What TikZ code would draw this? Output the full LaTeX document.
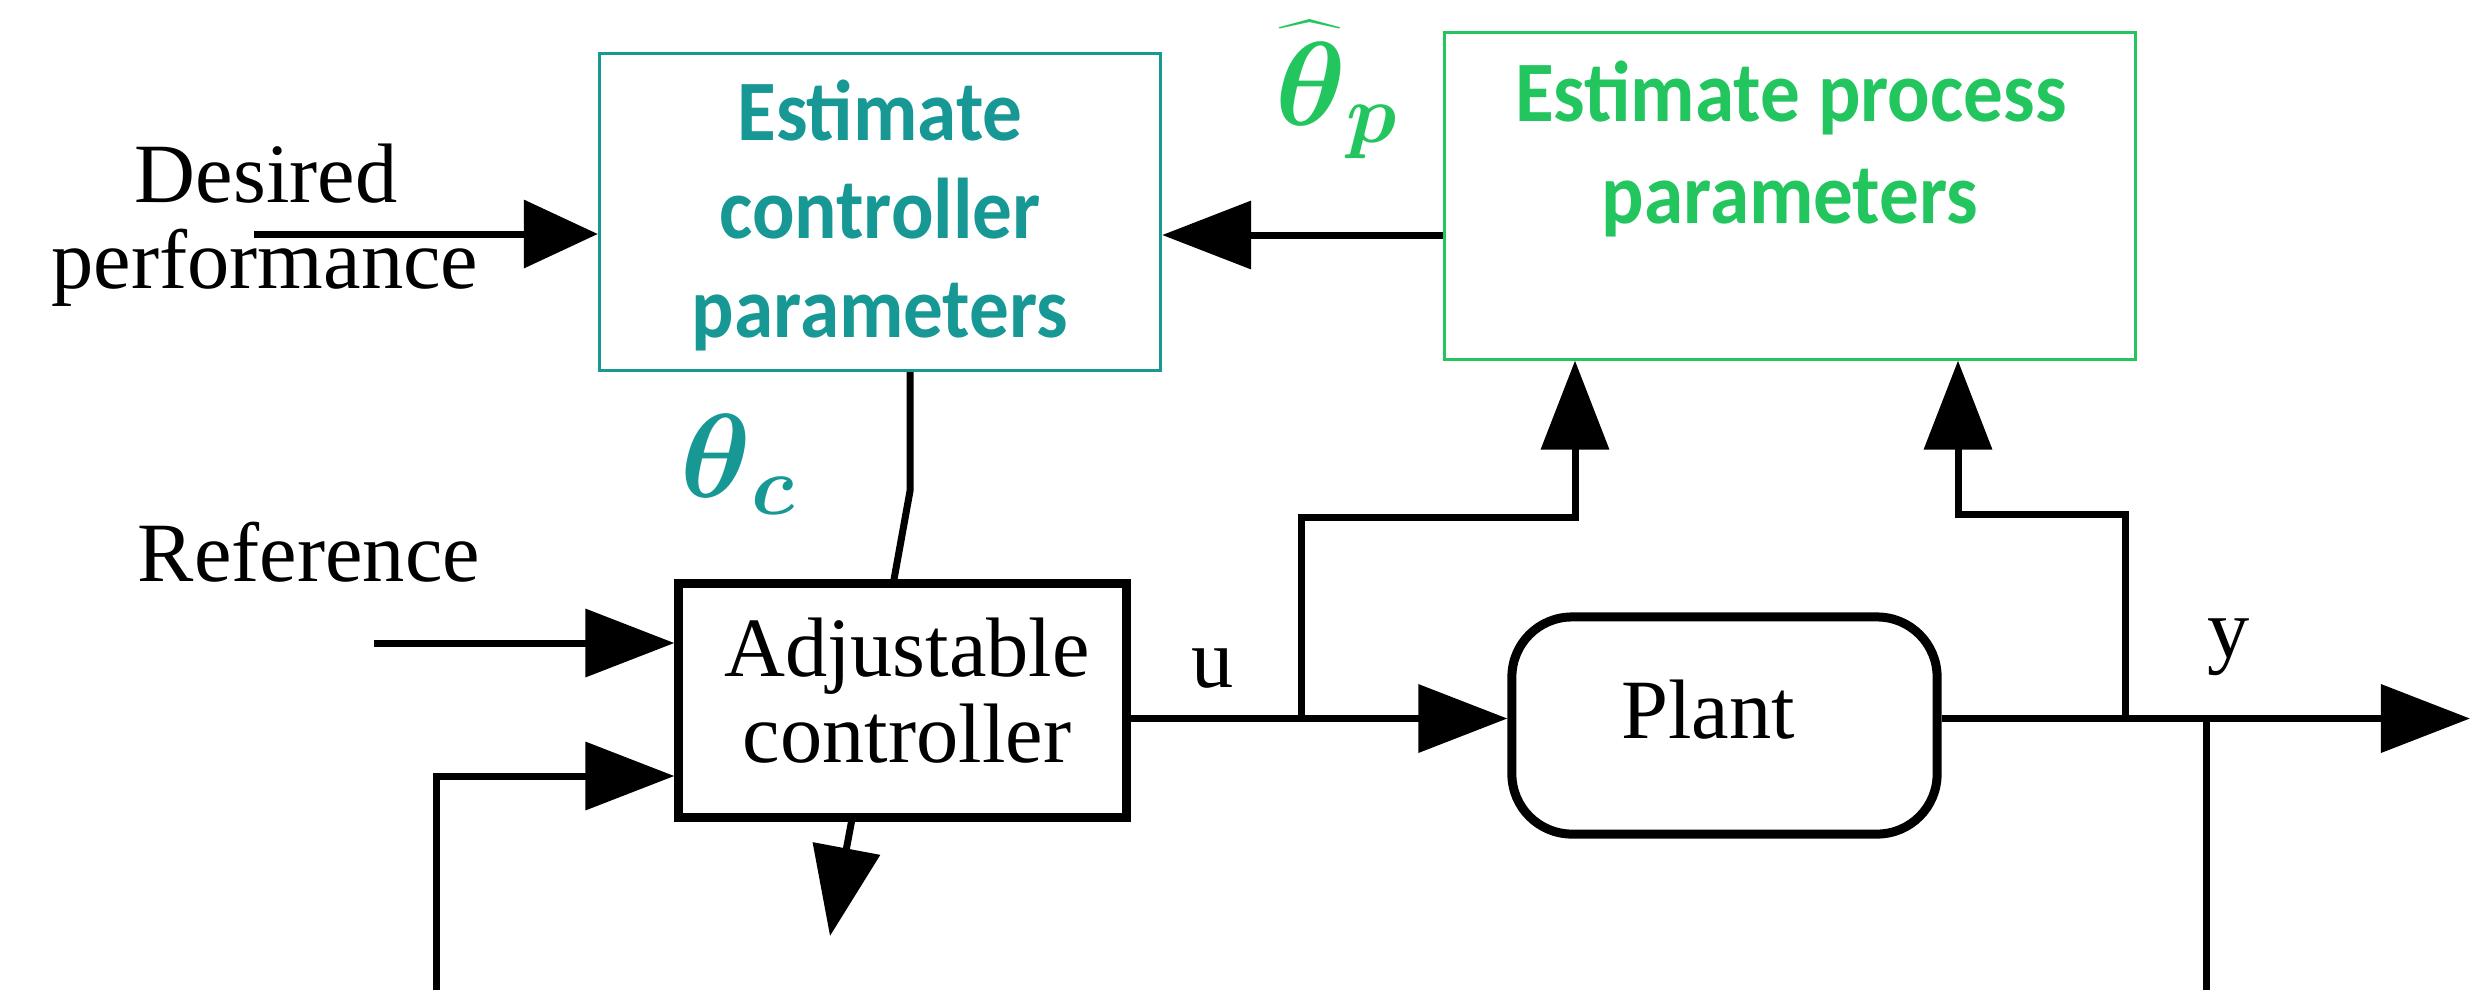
\RequirePackage{fix-cm}
\documentclass[tikz,border=0pt]{standalone}
\usepackage{amsmath}
\usepackage{graphicx}
\usepackage{fontspec}
\setmainfont{Liberation Serif}
\newfontfamily\carl{Carlito}[FakeStretch=0.92,BoldFeatures={FakeStretch=0.92}]
\usetikzlibrary{arrows.meta,calc}
\definecolor{tealc}{HTML}{179895}
\definecolor{greenc}{HTML}{22C55E}
\begin{document}
\begin{tikzpicture}[x=0.01cm,y=-0.01cm,
  wire/.style={line width=0.07cm},
  tip/.style={-{Triangle[length=0.89cm,width=0.67cm]}},
  shorttip/.style={-{Triangle[length=0.74cm,width=0.67cm]}},
  estbox/.style={draw,line width=0.03cm,inner sep=0pt},
  blkbox/.style={draw,line width=0.09cm,inner sep=0pt},
  serif/.style={font=\fontsize{24}{24}\selectfont,inner sep=0pt,anchor=base},
  cal/.style={font=\carl\bfseries\fontsize{24.5}{24.5}\selectfont,inner sep=0pt,anchor=base},
  sym/.style={font=\fontsize{34}{34}\selectfont,inner sep=0pt,anchor=base west}
]
\useasboundingbox (0,0) rectangle (2484,990);

% blocks
\node[estbox,draw=tealc,minimum width=5.61cm,minimum height=3.17cm] (ecp) at (880,212) {};
\node[estbox,draw=greenc,minimum width=6.91cm,minimum height=3.26cm] (epp) at (1790,196) {};
\node[blkbox,minimum width=4.47cm,minimum height=2.33cm] (adj) at (902.5,700.5) {};
\node[blkbox,rounded corners=0.6cm,minimum width=4.25cm,minimum height=2.17cm] (plant) at (1724.5,725.5) {};

% block texts
\node[cal,text=tealc] (ecp1) at (880,140) {Estimate};
\node[cal,text=tealc] (ecp2) at (880,238) {controller};
\node[cal,text=tealc] (ecp3) at (880,337) {parameters};
\node[cal,text=greenc] (epp1) at (1791,121) {Estimate process};
\node[cal,text=greenc] (epp2) at (1790,223) {parameters};
\node[serif] (adj1) at (907,676) {Adjustable};
\node[serif] (adj2) at (907,762) {controller};
\node[serif] (plt) at (1708,738) {Plant};

% free labels
\node[serif] (des1) at (266,202) {Desired};
\node[serif] (des2) at (265,288) {performance};
\node[serif] (ref) at (309,581) {Reference};
\node[serif] (ul) at (1213,687) {u};
\node[serif] (yl) at (2229,657) {y};
\node[sym,text=tealc] (thc) at (680,497) {$\boldsymbol{\theta}_{\boldsymbol{c}}$};
\node[sym,text=greenc] (thp) at (1275,125) {$\boldsymbol{\theta}_{\boldsymbol{p}}$};
\node[sym,text=greenc,anchor=north] (hatp) at (1310,20) {\scalebox{1.25}[0.6]{$\widehat{\phantom{\boldsymbol{\theta}}}$}};

% coordinates
\coordinate (dstart) at (254,234);
\coordinate (pe) at (1443,235);
\coordinate (tc) at (910,491);
\coordinate (rstart) at (374,643);
\coordinate (fb0) at (436,990);
\coordinate (fb1) at (436,776);
\coordinate (dn) at (830,936);
\coordinate (uy) at (0,718.5);
\coordinate (b1) at (1301,718.5);
\coordinate (b1t) at (1301,517);
\coordinate (b1r) at (1575,517);
\coordinate (b2) at (2125,718.5);
\coordinate (b2t) at (2125,514);
\coordinate (b2l) at (1958,514);
\coordinate (yend) at (2470,718.5);
\coordinate (v0) at (2206,718.5);
\coordinate (v1) at (2206,990);

% connectors
\draw[wire,shorttip] (dstart) -- (dstart -| ecp.west);
\draw[wire,tip] (pe -| epp.west) -- (pe -| ecp.east);
\draw[wire] ($(ecp.south)+(30,0)$) -- (tc) -- ($(adj.north)+(-8.5,0)$);
\draw[wire,tip] (rstart) -- (rstart -| adj.west);
\draw[wire,tip] (fb0) -- (fb1) -- (fb1 -| adj.west);
\draw[wire,tip] ($(adj.south)+(-51,0)$) -- (dn);
\draw[wire,tip] (adj.east |- uy) -- (plant.west |- uy);
\draw[wire,tip] (b1) -- (b1t) -- (b1r) -- (b1r |- epp.south);
\draw[wire,tip] (plant.east |- uy) -- (yend);
\draw[wire,tip] (b2) -- (b2t) -- (b2l) -- (b2l |- epp.south);
\draw[wire] (v0) -- (v1);
\end{tikzpicture}
\end{document}
